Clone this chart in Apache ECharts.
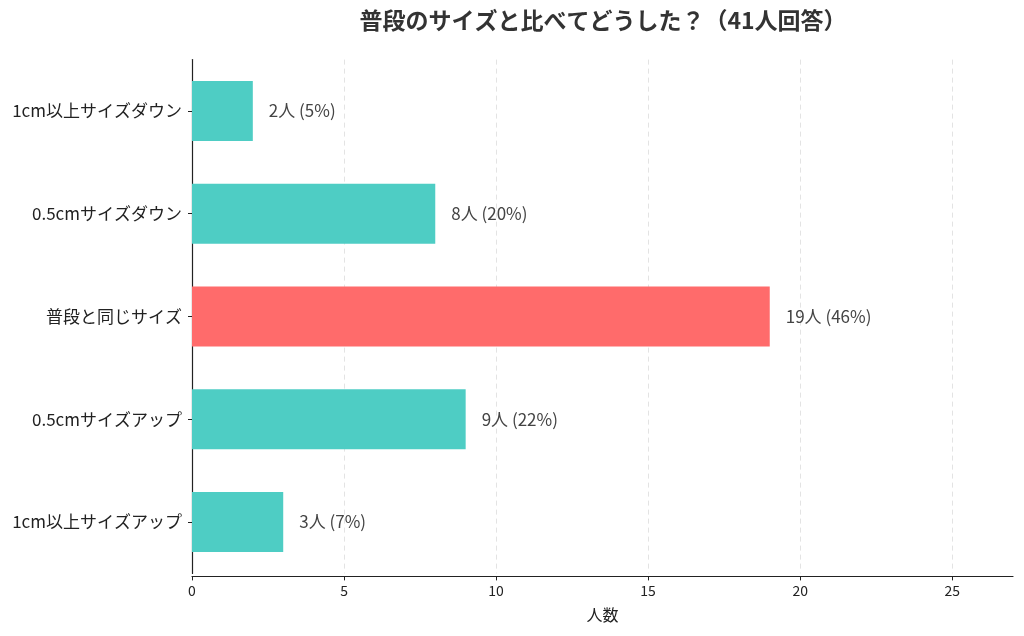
<!DOCTYPE html>
<html>
<head>
<meta charset="utf-8">
<script src="https://cdn.jsdelivr.net/npm/echarts@6/dist/echarts.min.js"></script>
<style>
html,body{margin:0;padding:0;background:#fff;}
#chart{width:1024px;height:636px;}
</style>
</head>
<body>
<div id="chart"></div>
<script>
const categories = ['1cm以上サイズダウン', '0.5cmサイズダウン', '普段と同じサイズ', '0.5cmサイズアップ', '1cm以上サイズアップ'];
const counts = [2, 8, 19, 9, 3];
const total = 41;
const highlightIndex = 2;
const xTicks = [0, 5, 10, 15, 20, 25];

const FONT = '"Noto Sans CJK JP", "Noto Sans", sans-serif';
const chart = echarts.init(document.getElementById('chart'), null, {renderer: 'canvas'});
chart.setOption({
  backgroundColor: '#ffffff',
  animation: false,
  title: {
    text: '普段のサイズと比べてどうした？（41人回答）',
    left: 598, top: 4, textAlign: 'center',
    textStyle: {fontFamily: FONT, fontSize: 23, fontWeight: 'bold', color: '#333333'}
  },
  grid: {left: 192, right: 11, top: 59.6, bottom: 62.6, containLabel: false},
  xAxis: {
    type: 'value', min: 0, max: 27, interval: 5, offset: 3,
    name: '人数', nameLocation: 'middle', nameGap: 31,
    nameTextStyle: {fontFamily: FONT, fontSize: 16, color: '#222222'},
    axisLine: {show: true, lineStyle: {color: '#222222', width: 1.2}},
    axisTick: {show: true, length: 4, customValues: xTicks, lineStyle: {color: '#222222'}},
    axisLabel: {fontFamily: FONT, fontSize: 14, color: '#222222', margin: 7, customValues: xTicks},
    splitLine: {show: true, lineStyle: {color: '#e3e3e3', type: [5, 4], width: 1}}
  },
  yAxis: {
    type: 'category', data: categories, inverse: true,
    axisLine: {show: true, lineStyle: {color: '#222222', width: 1.2}},
    axisTick: {show: true, length: 4, alignWithLabel: true, lineStyle: {color: '#222222'}},
    axisLabel: {fontFamily: FONT, fontSize: 17, color: '#222222', margin: 10},
    splitLine: {show: false}
  },
  series: [{
    type: 'bar',
    data: counts.map((v, i) => ({
      value: v,
      itemStyle: {color: i === highlightIndex ? '#FF6B6B' : '#4ECDC4'}
    })),
    barWidth: '58.4%',
    label: {
      show: true, position: 'right', distance: 16,
      fontFamily: FONT, fontSize: 17, color: '#444444',
      formatter: p => p.value + '人 (' + Math.round(p.value / total * 100) + '%)'
    }
  }]
});
</script>
</body>
</html>
